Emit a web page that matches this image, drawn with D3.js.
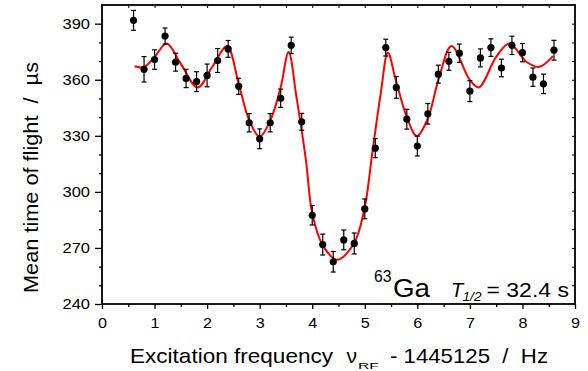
<!DOCTYPE html>
<html>
<head>
<meta charset="utf-8">
<script src="https://cdn.jsdelivr.net/npm/d3@7"></script>
<style>
  body { margin: 0; background: #fff; }
  text { font-family: Arial, "Liberation Sans", sans-serif; }
</style>
</head>
<body>
<script>
// measured points (offset frequency in Hz, mean TOF in µs, error)
const freq = [0.6, 0.8, 1.0, 1.2, 1.4, 1.6, 1.8, 2.0, 2.2, 2.4, 2.6, 2.8, 3.0, 3.2, 3.4, 3.6, 3.8,
  4.0, 4.2, 4.4, 4.6, 4.8, 5.0, 5.2, 5.4, 5.6, 5.8, 6.0, 6.2, 6.4, 6.6, 6.8, 7.0, 7.2, 7.4, 7.6,
  7.8, 8.0, 8.2, 8.4, 8.6];
const tof = [391.8, 365.6, 370.8, 383.4, 369.4, 360.7, 359.0, 362.3, 370.3, 376.5, 356.5, 337.0,
  328.4, 337.0, 350.1, 378.4, 337.5, 287.5, 271.8, 262.6, 274.3, 272.4, 290.9, 323.4, 377.2,
  355.9, 338.9, 324.5, 341.8, 363.0, 369.9, 374.2, 353.9, 371.7, 377.2, 366.3, 378.4, 374.5,
  361.4, 357.8, 375.8];
const err = [5.3, 6.8, 5.2, 4.3, 4.8, 4.9, 5.3, 6.1, 6.4, 4.5, 4.3, 4.9, 5.3, 4.9, 4.9, 4.4, 4.5,
  5.2, 5.6, 5.5, 5.3, 5.6, 5.3, 5.1, 4.5, 5.8, 5.3, 5.3, 5.5, 4.8, 4.8, 4.9, 5.6, 4.8, 4.7, 4.7,
  4.9, 4.9, 4.9, 5.2, 5.3];

// fitted line
const fitFreq = [0.62, 0.8, 1.0, 1.23, 1.5, 1.82, 2.1, 2.38, 2.6, 2.8, 3.0, 3.2, 3.4, 3.55, 3.7,
  3.88, 4.0, 4.2, 4.47, 4.79, 4.99, 5.15, 5.3, 5.44, 5.59, 5.8, 5.99, 6.2, 6.4, 6.65, 7.0, 7.17,
  7.5, 7.75, 8.08, 8.32, 8.58];
const fitTof = [367.2, 366.8, 372.2, 379.4, 368.5, 355.9, 367.0, 377.9, 358.0, 338.4, 329.5, 338.0,
  356.0, 374.9, 350.8, 317.0, 288.6, 271.5, 263.7, 272.2, 290.3, 322.4, 352.0, 374.5, 359.8,
  340.0, 329.9, 339.3, 359.8, 378.0, 359.8, 355.9, 372.2, 379.4, 369.5, 366.9, 372.6];

const xTicks = [0, 1, 2, 3, 4, 5, 6, 7, 8, 9];
const yTicks = [240, 270, 300, 330, 360, 390];

const width = 588, height = 371;
const marginTop = 5, marginRight = 13, marginBottom = 67, marginLeft = 102;

const x = d3.scaleLinear().domain([0, 9]).range([marginLeft, width - marginRight]);
const y = d3.scaleLinear().domain([240, 400]).range([height - marginBottom, marginTop]);

const svg = d3.select("body").append("svg")
    .attr("width", width)
    .attr("height", height)
    .attr("viewBox", [0, 0, width, height]);

const xMinor = d3.range(0.5, 9, 1);
const yMinor = d3.range(250, 400, 10).filter(v => v % 30 !== 0);

// bottom axis (outward ticks)
svg.append("g")
    .attr("transform", `translate(0,${height - marginBottom})`)
    .call(d3.axisBottom(x).tickValues(xTicks).tickSize(5).tickPadding(8).tickFormat(d3.format("d")))
    .call(g => g.select(".domain").remove())
    .call(g => g.selectAll(".tick line").attr("stroke-width", 1.3))
    .call(g => g.selectAll(".tick text").attr("font-size", 15).attr("fill", "#000")
        .attr("textLength", 9).attr("lengthAdjust", "spacingAndGlyphs"));
svg.append("g")
    .attr("transform", `translate(0,${height - marginBottom})`)
    .call(d3.axisBottom(x).tickValues(xMinor).tickSize(3).tickFormat(""))
    .call(g => g.select(".domain").remove())
    .call(g => g.selectAll(".tick line").attr("stroke-width", 1.3));

// left axis
svg.append("g")
    .attr("transform", `translate(${marginLeft},0)`)
    .call(d3.axisLeft(y).tickValues(yTicks).tickSize(7).tickPadding(5))
    .call(g => g.select(".domain").remove())
    .call(g => g.selectAll(".tick line").attr("stroke-width", 1.3))
    .call(g => g.selectAll(".tick text").attr("font-size", 15).attr("fill", "#000")
        .attr("textLength", 27.5).attr("lengthAdjust", "spacingAndGlyphs"));
svg.append("g")
    .attr("transform", `translate(${marginLeft},0)`)
    .call(d3.axisLeft(y).tickValues(yMinor).tickSize(3).tickFormat(""))
    .call(g => g.select(".domain").remove())
    .call(g => g.selectAll(".tick line").attr("stroke-width", 1.3));

// top and right: inward ticks only
svg.append("g")
    .attr("transform", `translate(0,${marginTop})`)
    .call(d3.axisBottom(x).tickValues(xTicks.concat(xMinor)).tickSize(3).tickFormat(""))
    .call(g => g.select(".domain").remove());
svg.append("g")
    .attr("transform", `translate(${width - marginRight},0)`)
    .call(d3.axisRight(y).tickValues(yTicks.concat(yMinor)).tickSize(-3).tickFormat(""))
    .call(g => g.select(".domain").remove());

// frame
svg.append("rect")
    .attr("x", marginLeft)
    .attr("y", marginTop)
    .attr("width", width - marginLeft - marginRight)
    .attr("height", height - marginTop - marginBottom)
    .attr("fill", "none")
    .attr("stroke", "#000")
    .attr("stroke-width", 1.8);

// fit curve
const line = d3.line()
    .x(i => x(fitFreq[i]))
    .y(i => y(fitTof[i]))
    .curve(d3.curveCatmullRom.alpha(0.5));

svg.append("path")
    .attr("d", line(d3.range(fitFreq.length)))
    .attr("fill", "none")
    .attr("stroke", "#ff0000")
    .attr("stroke-width", 2);

// error bars
const I = d3.range(freq.length);
const eb = svg.append("g").attr("stroke", "#000").attr("stroke-width", 1.2);
eb.selectAll(".v").data(I).join("line")
    .attr("x1", i => x(freq[i])).attr("x2", i => x(freq[i]))
    .attr("y1", i => y(tof[i] - err[i])).attr("y2", i => y(tof[i] + err[i]));
eb.selectAll(".ct").data(I).join("line")
    .attr("x1", i => x(freq[i]) - 2.5).attr("x2", i => x(freq[i]) + 2.5)
    .attr("y1", i => y(tof[i] + err[i])).attr("y2", i => y(tof[i] + err[i]));
eb.selectAll(".cb").data(I).join("line")
    .attr("x1", i => x(freq[i]) - 2.5).attr("x2", i => x(freq[i]) + 2.5)
    .attr("y1", i => y(tof[i] - err[i])).attr("y2", i => y(tof[i] - err[i]));

// points
svg.append("g").selectAll("circle").data(I).join("circle")
    .attr("cx", i => x(freq[i]))
    .attr("cy", i => y(tof[i]))
    .attr("r", 3.6)
    .attr("fill", "#000");

// annotation
svg.append("text")
    .attr("x", 374).attr("y", 281.5)
    .attr("font-size", 16).attr("fill", "#000")
    .attr("textLength", 17.5).attr("lengthAdjust", "spacingAndGlyphs")
    .text("63");
svg.append("text")
    .attr("x", 393).attr("y", 296.7)
    .attr("font-size", 26.5).attr("fill", "#000")
    .attr("textLength", 37).attr("lengthAdjust", "spacingAndGlyphs")
    .text("Ga");
svg.append("text")
    .attr("x", 451).attr("y", 296.7)
    .attr("font-size", 20).attr("font-style", "italic").attr("fill", "#000")
    .text("T");
svg.append("text")
    .attr("x", 462.5).attr("y", 300.5)
    .attr("font-size", 13).attr("font-style", "italic").attr("fill", "#000")
    .attr("textLength", 19).attr("lengthAdjust", "spacingAndGlyphs")
    .text("1/2");
svg.append("text")
    .attr("x", 486.5).attr("y", 296.7)
    .attr("font-size", 20).attr("fill", "#000")
    .attr("textLength", 82.5).attr("lengthAdjust", "spacingAndGlyphs")
    .attr("xml:space", "preserve")
    .text("= 32.4 s");

// x axis title
svg.append("text")
    .attr("x", 130).attr("y", 363)
    .attr("font-size", 21).attr("fill", "#000")
    .attr("textLength", 203).attr("lengthAdjust", "spacingAndGlyphs")
    .text("Excitation frequency");
svg.append("text")
    .attr("x", 346.5).attr("y", 363)
    .attr("font-size", 21).attr("fill", "#000")
    .text("ν");
svg.append("text")
    .attr("x", 358).attr("y", 368.5)
    .attr("font-size", 9.5).attr("fill", "#000")
    .attr("textLength", 21).attr("lengthAdjust", "spacingAndGlyphs")
    .text("RF");
svg.append("text")
    .attr("x", 390).attr("y", 363)
    .attr("font-size", 21).attr("fill", "#000")
    .attr("textLength", 158).attr("lengthAdjust", "spacingAndGlyphs")
    .attr("xml:space", "preserve")
    .text("- 1445125  /  Hz");

// y axis title
svg.append("text")
    .attr("transform", "translate(38,177.5) rotate(-90)")
    .attr("text-anchor", "middle")
    .attr("font-size", 21)
    .attr("fill", "#000")
    .attr("textLength", 231).attr("lengthAdjust", "spacingAndGlyphs")
    .attr("xml:space", "preserve")
    .text("Mean time of flight  /  µs");
</script>
</body>
</html>
